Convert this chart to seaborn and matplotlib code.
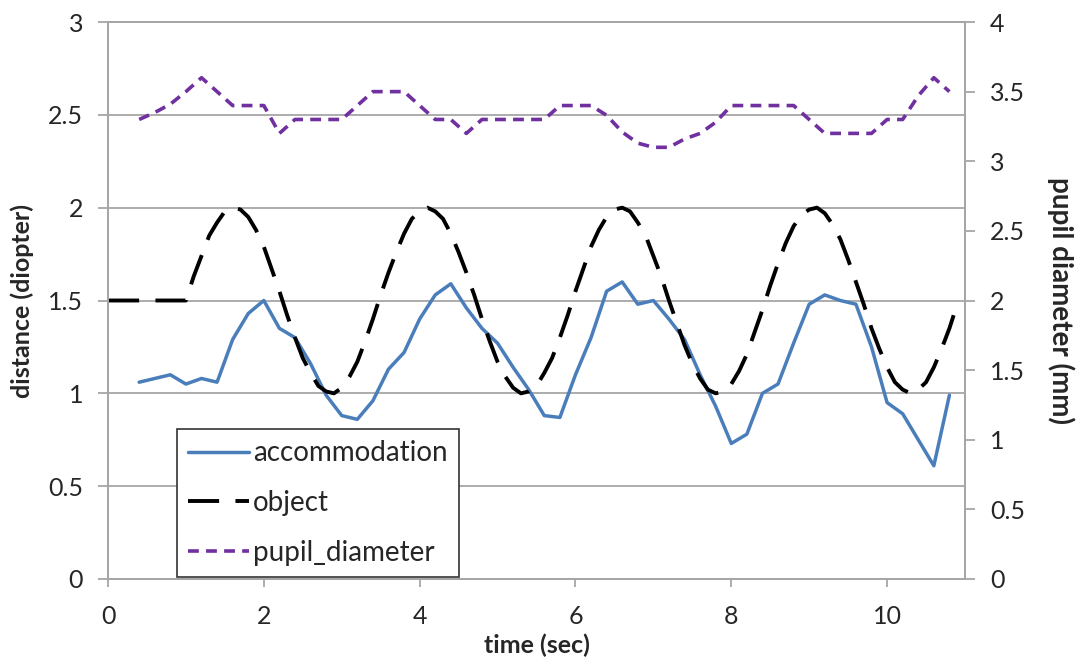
import numpy as np
import pandas as pd
import matplotlib
matplotlib.use("Agg")
import matplotlib.pyplot as plt
from matplotlib.ticker import FuncFormatter
import seaborn as sns

# ---------------- data ----------------
time_samples = [0.4, 0.6, 0.8, 1.0, 1.2, 1.4, 1.6, 1.8, 2.0, 2.2, 2.4, 2.6, 2.8,
                3.0, 3.2, 3.4, 3.6, 3.8, 4.0, 4.2, 4.4, 4.6, 4.8, 5.0, 5.2, 5.4,
                5.6, 5.8, 6.0, 6.2, 6.4, 6.6, 6.8, 7.0, 7.2, 7.4, 7.6, 7.8, 8.0,
                8.2, 8.4, 8.6, 8.8, 9.0, 9.2, 9.4, 9.6, 9.8, 10.0, 10.2, 10.4,
                10.6, 10.8]

accommodation = [1.06, 1.08, 1.10, 1.05, 1.08, 1.06, 1.29, 1.43, 1.50, 1.35, 1.30,
                 1.16, 0.99, 0.88, 0.86, 0.96, 1.13, 1.22, 1.40, 1.53, 1.59, 1.46,
                 1.35, 1.27, 1.14, 1.02, 0.88, 0.87, 1.10, 1.30, 1.55, 1.60, 1.48,
                 1.50, 1.40, 1.29, 1.10, 0.93, 0.73, 0.78, 1.00, 1.05, 1.27, 1.48,
                 1.53, 1.50, 1.48, 1.25, 0.95, 0.89, 0.75, 0.61, 0.99]

pupil_diameter = [3.30, 3.35, 3.41, 3.50, 3.60, 3.50, 3.40, 3.40, 3.40, 3.20, 3.30,
                  3.30, 3.30, 3.30, 3.40, 3.50, 3.50, 3.50, 3.40, 3.30, 3.30, 3.20,
                  3.30, 3.30, 3.30, 3.30, 3.30, 3.40, 3.40, 3.40, 3.33, 3.21, 3.13,
                  3.10, 3.10, 3.16, 3.20, 3.28, 3.40, 3.40, 3.40, 3.40, 3.40, 3.30,
                  3.20, 3.20, 3.20, 3.20, 3.30, 3.30, 3.47, 3.60, 3.50]

object_time = np.round(np.arange(0.0, 10.95, 0.1), 1)
object_distance = [1.50, 1.50, 1.50, 1.50, 1.50, 1.50, 1.50, 1.50, 1.50, 1.50,
                   1.50, 1.63, 1.74, 1.85, 1.92, 1.98, 2.00, 1.99, 1.95, 1.88,
                   1.79, 1.67, 1.55, 1.42, 1.30, 1.19, 1.11, 1.04, 1.01, 1.00,
                   1.03, 1.09, 1.17, 1.28, 1.40, 1.53, 1.65, 1.76, 1.86, 1.94,
                   1.98, 2.00, 1.98, 1.94, 1.86, 1.76, 1.65, 1.53, 1.40, 1.28,
                   1.17, 1.09, 1.03, 1.00, 1.01, 1.04, 1.11, 1.19, 1.30, 1.42,
                   1.55, 1.67, 1.79, 1.88, 1.95, 1.99, 2.00, 1.98, 1.92, 1.85,
                   1.74, 1.63, 1.50, 1.38, 1.26, 1.16, 1.08, 1.02, 1.00, 1.01,
                   1.05, 1.12, 1.21, 1.33, 1.45, 1.58, 1.70, 1.81, 1.90, 1.96,
                   1.99, 2.00, 1.97, 1.91, 1.83, 1.72, 1.60, 1.48, 1.35, 1.24,
                   1.14, 1.06, 1.02, 1.00, 1.02, 1.06, 1.14, 1.24, 1.35, 1.48]

x_ticks = [0, 2, 4, 6, 8, 10]
left_ticks = [0, 0.5, 1, 1.5, 2, 2.5, 3]
right_ticks = [0, 0.5, 1, 1.5, 2, 2.5, 3, 3.5, 4]

# ---------------- style ----------------
sns.set_style("white")
plt.rcParams['font.family'] = ['Lato', 'DejaVu Sans']

GRID = '#A6A6A6'
TXT = '#262626'

fig = plt.figure(figsize=(10.84, 6.64), dpi=100)
ax = fig.add_axes([108 / 1084, 85 / 664, 857 / 1084, 557 / 664])
ax2 = ax.twinx()

acc_df = pd.DataFrame({'time': time_samples, 'accommodation': accommodation,
                       'pupil': pupil_diameter})
obj_df = pd.DataFrame({'time': object_time, 'object': object_distance})

sns.lineplot(data=acc_df, x='time', y='accommodation', ax=ax, color='#4A7EBB',
             linewidth=2.5, label='accommodation', legend=False)
sns.lineplot(data=obj_df, x='time', y='object', ax=ax, color='black',
             linewidth=2.8, linestyle=(0, (8, 4.2)), label='object', legend=False)
sns.lineplot(data=acc_df, x='time', y='pupil', ax=ax2, color='#7030A0',
             linewidth=2.6, linestyle=(0, (3.0, 2.0)), label='pupil_diameter',
             legend=False)

ax.set_xlim(0, 11)
ax.set_ylim(0, 3)
ax2.set_ylim(0, 4)
ax.set_xticks(x_ticks)
ax.set_yticks(left_ticks)
ax2.set_yticks(right_ticks)
fmt = FuncFormatter(lambda v, p: f'{v:g}')
ax.xaxis.set_major_formatter(fmt)
ax.yaxis.set_major_formatter(fmt)
ax2.yaxis.set_major_formatter(fmt)

ax.yaxis.grid(True, color=GRID, linewidth=1.3)
ax.xaxis.grid(False)
ax2.grid(False)
ax.set_axisbelow(True)

for a in (ax, ax2):
    for s in a.spines.values():
        s.set_color(GRID)
        s.set_linewidth(1.3)

ax.tick_params(axis='x', bottom=True, direction='out', length=6, width=1.3,
               color=GRID, labelsize=18, labelcolor=TXT, pad=13)
ax.tick_params(axis='y', left=True, direction='out', length=7, width=1.3,
               color=GRID, labelsize=18, labelcolor=TXT, pad=11)
ax2.tick_params(axis='y', right=True, direction='out', length=7, width=1.3,
                color=GRID, labelsize=18, labelcolor=TXT, pad=11)

ax.set_xlabel('time (sec)', fontsize=18, fontweight='bold', color=TXT, labelpad=4)
ax.set_ylabel('distance (diopter)', fontsize=18, fontweight='bold', color=TXT,
              labelpad=10)
ax2.set_ylabel('pupil diameter (mm)', fontsize=20, fontweight='bold', color=TXT,
               rotation=270, labelpad=36)

h1, l1 = ax.get_legend_handles_labels()
h2, l2 = ax2.get_legend_handles_labels()
leg = ax2.legend(h1 + h2, l1 + l2, loc='lower left', bbox_to_anchor=(0.08, 0.004),
                 borderaxespad=0, frameon=True, fancybox=False, fontsize=20,
                 handlelength=2.2, handletextpad=0.15, labelspacing=0.85,
                 borderpad=0.4)
leg.get_frame().set_edgecolor('#333333')
leg.get_frame().set_linewidth(1.2)
leg.get_frame().set_facecolor('white')
leg.get_frame().set_alpha(1)
for t in leg.get_texts():
    t.set_color(TXT)

fig.savefig('out.png', dpi=100)
